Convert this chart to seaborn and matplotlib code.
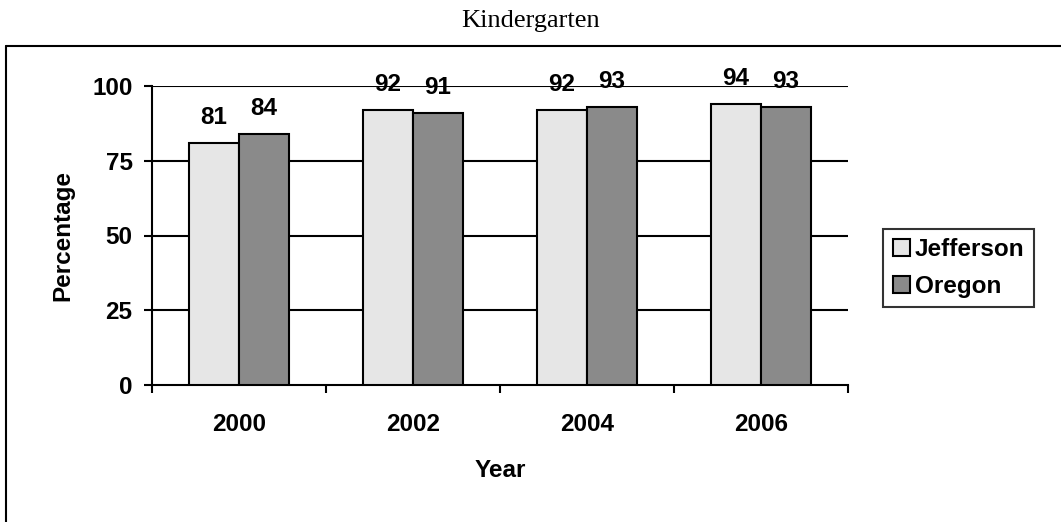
import matplotlib
matplotlib.use("Agg")
import matplotlib.pyplot as plt
from matplotlib.lines import Line2D
import seaborn as sns
import pandas as pd

years = ["2000", "2002", "2004", "2006"]
jefferson = [81, 92, 92, 94]
oregon = [84, 91, 93, 93]
series = ["Jefferson", "Oregon"]
colors = ["#e6e6e6", "#8a8a8a"]

df = pd.DataFrame({
    "Year": years * 2,
    "Percentage": jefferson + oregon,
    "School": [series[0]] * len(years) + [series[1]] * len(years),
})

sns.set_style("white")
plt.rcParams["font.family"] = ["Liberation Sans", "DejaVu Sans"]
plt.rcParams.update({
    "text.color": "black",
    "axes.labelcolor": "black",
    "xtick.color": "black",
    "ytick.color": "black",
})

FS = 17.5

fig = plt.figure(figsize=(10.61, 5.22), dpi=100)
ax = fig.add_axes([152 / 1061, 1 - 385 / 522, (848 - 152) / 1061, (385 - 86) / 522])

sns.barplot(data=df, x="Year", y="Percentage", hue="School", order=years,
            hue_order=series, palette=colors, width=0.575, saturation=1,
            edgecolor="black", linewidth=1.5, ax=ax, zorder=3)

# value labels above each bar
for container in ax.containers:
    for bar in container:
        h = bar.get_height()
        ax.annotate(f"{h:.0f}", (bar.get_x() + bar.get_width() / 2, h),
                    xytext=(0, 10), textcoords="offset points",
                    ha="center", va="bottom", fontsize=FS, fontweight="bold",
                    zorder=5)

ax.set_ylim(0, 100)
ax.set_xlim(-0.5, len(years) - 0.5)
ax.set_yticks([0, 25, 50, 75, 100])
ax.set_yticklabels(["0", "25", "50", "75", "100"], fontsize=FS, fontweight="bold")
ax.set_xticks(range(len(years)))
ax.set_xticklabels(years, fontsize=FS, fontweight="bold")
ax.tick_params(axis="x", which="major", bottom=True, length=0, pad=20.5)
ax.set_xticks([i - 0.5 for i in range(len(years) + 1)], minor=True)
ax.tick_params(axis="x", which="minor", bottom=True, length=6, width=1.5,
               direction="out")
ax.tick_params(axis="y", left=True, length=6, width=1.5, direction="out", pad=8)

for v in [25, 50, 75, 100]:
    ax.axhline(v, color="black", linewidth=1.5, zorder=1)

for side in ["top", "right"]:
    ax.spines[side].set_visible(False)
for side in ["left", "bottom"]:
    ax.spines[side].set_color("black")
    ax.spines[side].set_linewidth(1.5)

ax.set_ylabel("Percentage", fontsize=FS, fontweight="bold", labelpad=13)
ax.set_xlabel("Year", fontsize=FS, fontweight="bold", labelpad=16)

leg = ax.legend(loc="center left", bbox_to_anchor=(883 / 1061, 1 - 268 / 522),
                bbox_transform=fig.transFigure, frameon=True, fancybox=False,
                prop={"weight": "bold", "size": FS}, handlelength=0.7,
                handleheight=0.7, handletextpad=0.2, labelspacing=0.55,
                borderpad=0.4, borderaxespad=0)
leg.get_frame().set_edgecolor("black")
leg.get_frame().set_linewidth(1.5)

fig.text(0.5, 1 - 21 / 522, "Kindergarten", ha="center", va="center",
         fontsize=19, family=["Liberation Serif", "DejaVu Serif"])

# outer chart frame (left and top edges)
fig.add_artist(Line2D([6 / 1061, 6 / 1061], [0, 1 - 46 / 522],
                      color="black", linewidth=1.5, transform=fig.transFigure))
fig.add_artist(Line2D([6 / 1061, 1], [1 - 46 / 522, 1 - 46 / 522],
                      color="black", linewidth=1.5, transform=fig.transFigure))

fig.savefig("out.png", dpi=100)
